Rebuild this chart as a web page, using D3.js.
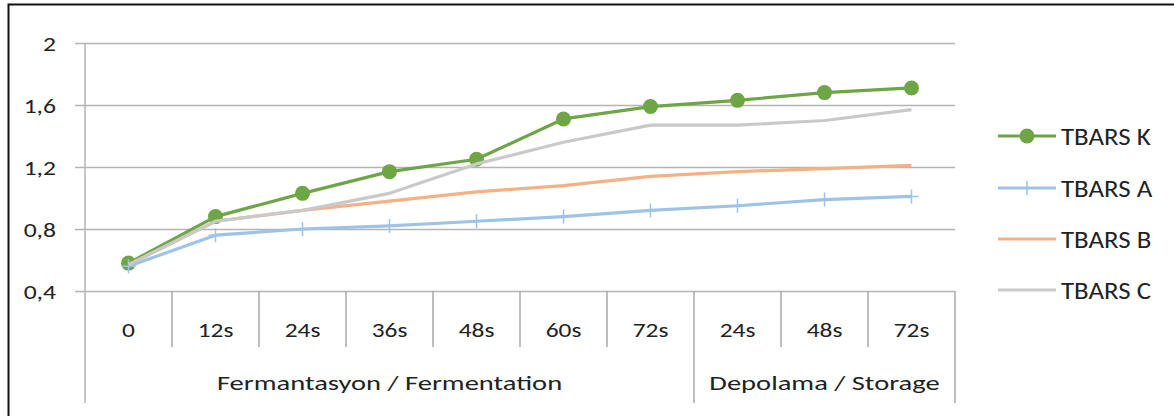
<!DOCTYPE html>
<html>
<head>
<meta charset="utf-8">
<script src="https://cdn.jsdelivr.net/npm/d3@7"></script>
<style>
  body { margin: 0; background: #fff; }
  svg text { font-family: Carlito, Calibri, Lato, "Open Sans", sans-serif; fill: #222; }
</style>
</head>
<body>
<svg id="chart" width="1174" height="416"></svg>
<script>
// categories along the x axis (two levels)
const categories = ["0", "12s", "24s", "36s", "48s", "60s", "72s", "24s", "48s", "72s"];
const groupLabels = ["Fermantasyon / Fermentation", "Depolama / Storage"];
const groupSizes = [7, 3];

// y ticks
const yTicks = [0.4, 0.8, 1.2, 1.6, 2];

// series values
const seriesNames = ["TBARS K", "TBARS A", "TBARS B", "TBARS C"];
const tbarsK = [0.58, 0.88, 1.03, 1.17, 1.25, 1.51, 1.59, 1.63, 1.68, 1.71];
const tbarsA = [0.56, 0.76, 0.80, 0.82, 0.85, 0.88, 0.92, 0.95, 0.99, 1.01];
const tbarsB = [0.57, 0.85, 0.92, 0.98, 1.04, 1.08, 1.14, 1.17, 1.19, 1.21];
const tbarsC = [0.57, 0.85, 0.92, 1.03, 1.22, 1.36, 1.47, 1.47, 1.50, 1.57];

const colors = ["#6ea646", "#9dc3e6", "#f4b183", "#c9c9c9"];
const markers = ["circle", "plus", "none", "none"];

const svg = d3.select("#chart");

// the original picture is stretched sideways, so text gets a horizontal scale
function stretchedText(g, x, y, str, size, sx, anchor) {
  return g.append("text")
    .attr("transform", `translate(${x},${y}) scale(${sx},1)`)
    .attr("text-anchor", anchor)
    .attr("font-size", size)
    .text(str);
}

// outer frame (runs off the right and bottom of the picture)
svg.append("rect")
  .attr("x", 8.5).attr("y", 4.5)
  .attr("width", 1200).attr("height", 440)
  .attr("fill", "none").attr("stroke", "#111").attr("stroke-width", 2);

const plotLeft = 85, plotRight = 955, plotTop = 43, plotBottom = 291;

const x = d3.scaleBand()
  .domain(d3.range(categories.length))
  .range([plotLeft, plotRight]);

const y = d3.scaleLinear()
  .domain([0.4, 2])
  .range([plotBottom, plotTop]);

// gridlines + y labels
const yAxis = d3.axisLeft(y)
  .tickValues(yTicks)
  .tickSize(-(plotRight - plotLeft))
  .tickFormat(d => String(d).replace(".", ","));

const gy = svg.append("g")
  .attr("transform", `translate(${plotLeft},0)`)
  .call(yAxis);
gy.select(".domain").remove();
gy.selectAll(".tick line")
  .attr("x1", -10)
  .attr("stroke", "#b4b4b4").attr("stroke-width", 1.5);
gy.selectAll(".tick text").remove();
gy.selectAll(".tick").each(function(d) {
  stretchedText(d3.select(this), -29, 0, String(d).replace(".", ","), 21, 1.22, "end")
    .attr("dy", "0.36em");
});

// vertical axis line
svg.append("line")
  .attr("x1", plotLeft).attr("x2", plotLeft)
  .attr("y1", plotTop).attr("y2", 403)
  .attr("stroke", "#b4b4b4").attr("stroke-width", 1.5);

// category separators and labels
const axisG = svg.append("g");
const step = x.step();
let groupStart = 0;
const groupEdges = [0];
groupSizes.forEach(s => { groupStart += s; groupEdges.push(groupStart); });

d3.range(1, categories.length).forEach(i => {
  const xx = x(i);
  const isGroupEdge = groupEdges.includes(i);
  axisG.append("line")
    .attr("x1", xx).attr("x2", xx)
    .attr("y1", plotBottom).attr("y2", isGroupEdge ? 403 : 347)
    .attr("stroke", "#a8a8a8").attr("stroke-width", 1.5);
});
axisG.append("line")
  .attr("x1", plotRight).attr("x2", plotRight)
  .attr("y1", plotBottom).attr("y2", 403)
  .attr("stroke", "#a8a8a8").attr("stroke-width", 1.5);

categories.forEach((c, i) => {
  stretchedText(axisG, x(i) + step / 2, 337, c, 20, 1.27, "middle");
});

groupLabels.forEach((g, i) => {
  const x0 = x(groupEdges[i]);
  const x1 = groupEdges[i + 1] >= categories.length ? plotRight : x(groupEdges[i + 1]);
  stretchedText(axisG, (x0 + x1) / 2, 390, g, 21, 1.36, "middle");
});

// lines
const allSeries = [tbarsK, tbarsA, tbarsB, tbarsC];
const line = d3.line()
  .x((d, i) => x(i) + step / 2)
  .y(d => y(d));

function drawMarker(g, type, color, cx, cy) {
  if (type === "circle") {
    g.append("circle")
      .attr("cx", cx).attr("cy", cy).attr("r", 7.5)
      .attr("fill", color);
  } else if (type === "plus") {
    g.append("path")
      .attr("d", `M${cx - 7},${cy}H${cx + 7}M${cx},${cy - 7}V${cy + 7}`)
      .attr("stroke", color).attr("stroke-width", 1.5).attr("fill", "none");
  }
}

allSeries.forEach((vals, si) => {
  const g = svg.append("g");
  g.append("path")
    .datum(vals)
    .attr("d", line)
    .attr("fill", "none")
    .attr("stroke", colors[si])
    .attr("stroke-width", 3.2)
    .attr("stroke-linejoin", "round");
  vals.forEach((v, i) => drawMarker(g, markers[si], colors[si], x(i) + step / 2, y(v)));
});

// legend
const legendY = [136, 188, 239, 290];
seriesNames.forEach((name, i) => {
  const g = svg.append("g").attr("transform", `translate(998,${legendY[i]})`);
  g.append("line")
    .attr("x1", 0).attr("x2", 58)
    .attr("stroke", colors[i]).attr("stroke-width", 3.2);
  drawMarker(g, markers[i], colors[i], 29, 0);
  stretchedText(g, 63, 0, name, 24, 1.12, "start").attr("dy", "0.36em");
});
</script>
</body>
</html>
